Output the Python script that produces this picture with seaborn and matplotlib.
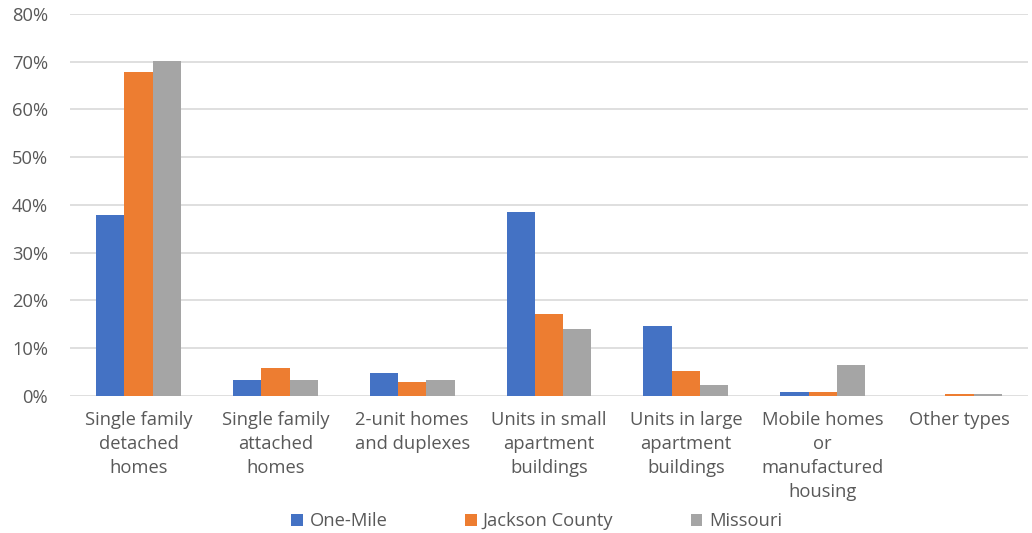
import matplotlib
matplotlib.use("Agg")
import matplotlib.pyplot as plt
import seaborn as sns
import pandas as pd
from matplotlib.ticker import PercentFormatter

categories = [
    "Single family\ndetached\nhomes",
    "Single family\nattached\nhomes",
    "2-unit homes\nand duplexes",
    "Units in small\napartment\nbuildings",
    "Units in large\napartment\nbuildings",
    "Mobile homes\nor\nmanufactured\nhousing",
    "Other types",
]
series_names = ["One-Mile", "Jackson County", "Missouri"]
one_mile = [37.9, 3.3, 4.9, 38.5, 14.7, 0.8, 0.0]
jackson_county = [67.9, 5.8, 3.0, 17.2, 5.2, 0.8, 0.5]
missouri = [70.1, 3.3, 3.3, 14.0, 2.4, 6.5, 0.4]
y_ticks = [0, 10, 20, 30, 40, 50, 60, 70, 80]
colors = ["#4472C4", "#ED7D31", "#A5A5A5"]

rows = []
for name, vals in zip(series_names, [one_mile, jackson_county, missouri]):
    for cat, v in zip(categories, vals):
        rows.append({"category": cat, "series": name, "value": v})
df = pd.DataFrame(rows)

sns.set_style("white")
plt.rcParams["font.family"] = ["Open Sans", "DejaVu Sans"]
text_color = "#595959"
fs = 13.2

fig = plt.figure(figsize=(10.32, 5.33), dpi=100)
ax = fig.add_axes([0.068, 0.257, 0.928, 0.717])

sns.barplot(data=df, x="category", y="value", hue="series",
            order=categories, hue_order=series_names,
            palette=colors, width=0.62, gap=0, saturation=1,
            edgecolor="none", linewidth=0, ax=ax, zorder=3)

ax.set_ylim(0, 80)
ax.set_xlim(-0.5, len(categories) - 0.5)
ax.set_yticks(y_ticks)
ax.yaxis.set_major_formatter(PercentFormatter(decimals=0))
ax.grid(axis="y", color="#D9D9D9", linewidth=1.2, zorder=0)
for s in ax.spines.values():
    s.set_visible(False)
ax.tick_params(axis="both", length=0, labelsize=fs, labelcolor=text_color)
ax.tick_params(axis="y", pad=16)
ax.tick_params(axis="x", pad=11)
for lbl in ax.get_xticklabels():
    lbl.set_linespacing(1.42)
ax.set_xlabel("")
ax.set_ylabel("")

handles, labels = ax.get_legend_handles_labels()
ax.legend_.remove()
fig.legend(handles, labels, loc="center", bbox_to_anchor=(0.520, 0.022),
           ncol=3, frameon=False, fontsize=fs, labelcolor=text_color,
           handlelength=0.65, handleheight=0.65, handletextpad=0.35,
           columnspacing=4.2)

fig.savefig("out.png", dpi=100)
